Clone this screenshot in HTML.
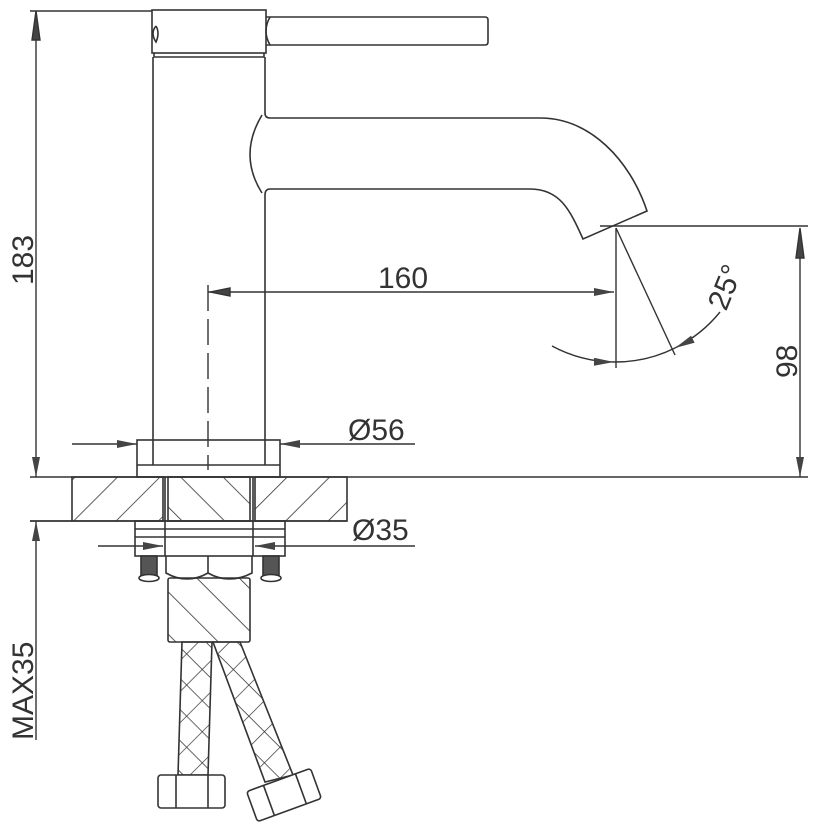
<!DOCTYPE html>
<html><head><meta charset="utf-8"><style>
html,body{margin:0;padding:0;background:#fff;}
svg{display:block;}
text{font-family:"Liberation Sans",sans-serif;fill:#333;}
</style></head><body>
<svg width="814" height="828" viewBox="0 0 814 828" xmlns="http://www.w3.org/2000/svg">
<defs>
<pattern id="hf" patternUnits="userSpaceOnUse" width="30" height="30" patternTransform="rotate(45)">
<line x1="0" y1="0" x2="0" y2="30" stroke="#333" stroke-width="1.6"/></pattern>
<pattern id="hb" patternUnits="userSpaceOnUse" width="30" height="30" patternTransform="rotate(-45)">
<line x1="0" y1="0" x2="0" y2="30" stroke="#333" stroke-width="1.6"/></pattern>
<pattern id="hx" patternUnits="userSpaceOnUse" width="22" height="22" patternTransform="rotate(45)">
<line x1="0" y1="0" x2="0" y2="22" stroke="#333" stroke-width="1.4"/><line x1="0" y1="0" x2="22" y2="0" stroke="#333" stroke-width="1.4"/></pattern>
<marker id="ar" viewBox="0 0 20 8" refX="20" refY="4" markerWidth="20" markerHeight="8" markerUnits="userSpaceOnUse" orient="auto"><path d="M0,0 L20,4 L0,8 z" fill="#444"/></marker>
</defs>
<g fill="none" stroke="#333" stroke-width="1.6">
<rect x="152" y="10" width="114" height="43"/>
<path d="M154,53 L154,57 L264,57 L264,53"/>
<path d="M156,26 Q150,33 156,42 Q160,33 156,26"/>
<path d="M266,17 L485,17 Q488,17 488,20 L488,42 Q488,45 485,45 L266,45"/>
<path d="M270,17 Q262,31 270,45"/>
<line x1="153" y1="57" x2="153" y2="465"/>
<path d="M265,57 L265,113 Q265,118 270,118 L540,118 C590,118 630,160 647,211 L583,239 C570,210 560,189 530,189 L270,189 Q265,189 265,195 L265,465"/>
<path d="M262,115 Q238,155 262,193"/>
<rect x="137" y="440" width="143" height="37"/>
<line x1="137" y1="465" x2="280" y2="465"/>
<line x1="208" y1="285" x2="208" y2="470" stroke-dasharray="26,8" stroke-width="1.4"/>
<line x1="30" y1="477" x2="808" y2="477"/>
<line x1="30" y1="521" x2="347" y2="521"/>
<rect x="72" y="477" width="91" height="44" fill="url(#hf)"/>
<rect x="168" y="477" width="82" height="44" fill="url(#hb)"/>
<rect x="255" y="477" width="92" height="44" fill="url(#hf)"/>
<line x1="165" y1="477" x2="165" y2="556"/><line x1="253" y1="477" x2="253" y2="556"/>
<rect x="135" y="521" width="150" height="35"/>
<line x1="135" y1="529" x2="285" y2="529"/><line x1="135" y1="537" x2="285" y2="537"/>
<rect x="141" y="556" width="16" height="20" fill="#555"/>
<rect x="263" y="556" width="16" height="20" fill="#555"/>
<ellipse cx="149" cy="578" rx="10" ry="3.5" fill="#fff"/><ellipse cx="271" cy="578" rx="10" ry="3.5" fill="#fff"/>
<path d="M166,556 L166,573 Q187,585 208,573 Q229,585 252,573 L252,556"/>
<line x1="208" y1="556" x2="208" y2="573"/>
<rect x="168" y="578" width="82" height="64" rx="2" fill="url(#hb)"/>
<path d="M182,642 L212,642 L208,775 L178,775 Z" fill="url(#hx)"/>
<path d="M213,642 L240,642 L293,775 L265,782 Z" fill="url(#hx)"/>
<rect x="158" y="775" width="67" height="33" rx="3" fill="#fff"/>
<line x1="176" y1="775" x2="176" y2="808"/><line x1="208" y1="775" x2="208" y2="808"/>
<g transform="translate(284,795) rotate(-20)"><rect x="-34" y="-16" width="68" height="32" rx="3" fill="#fff"/><line x1="-16" y1="-16" x2="-16" y2="16"/><line x1="18" y1="-16" x2="18" y2="16"/></g>
</g>
<g fill="none" stroke="#333" stroke-width="1.4">
<line x1="30" y1="11" x2="152" y2="11"/>
<line x1="36" y1="11" x2="36" y2="477" marker-end="url(#ar)"/>
<path d="M36,11 L32,40 L40,40 z" fill="#444"/>
<line x1="30" y1="521" x2="72" y2="521"/>
<line x1="36" y1="740" x2="36" y2="521" marker-end="url(#ar)"/>
<line x1="208" y1="292" x2="614" y2="292" marker-end="url(#ar)"/>
<path d="M210,292 L230,288 L230,296 z" fill="#444"/>
<line x1="600" y1="226" x2="808" y2="226"/>
<line x1="616" y1="228" x2="616" y2="368"/>
<line x1="616" y1="228" x2="675" y2="355"/>
<path d="M552,346 A134,134 0 0 0 614,362" marker-end="url(#ar)"/>
<path d="M720,312 A134,134 0 0 1 675,348" marker-end="url(#ar)"/>
<path d="M614,362 A134,134 0 0 0 675,348"/>
<line x1="800" y1="240" x2="800" y2="477" marker-end="url(#ar)"/>
<path d="M800,228 L796,258 L804,258 z" fill="#444"/>
<line x1="72" y1="444" x2="137" y2="444" marker-end="url(#ar)"/>
<line x1="415" y1="444" x2="280" y2="444" marker-end="url(#ar)"/>
<line x1="98" y1="546" x2="163" y2="546" marker-end="url(#ar)"/>
<line x1="415" y1="546" x2="255" y2="546" marker-end="url(#ar)"/>
</g>
<text x="0" y="0" font-size="30" transform="translate(33,285) rotate(-90)">183</text>
<text x="0" y="0" font-size="30" transform="translate(33,740) rotate(-90)">MAX35</text>
<text x="0" y="0" font-size="30" transform="translate(797,378) rotate(-90)">98</text>
<text x="0" y="0" font-size="30" transform="translate(726,312) rotate(-68)">25°</text>
<text x="378" y="288" font-size="30">160</text>
<text x="348" y="440" font-size="30">Ø56</text>
<text x="352" y="540" font-size="30">Ø35</text>
</svg>
</body></html>
